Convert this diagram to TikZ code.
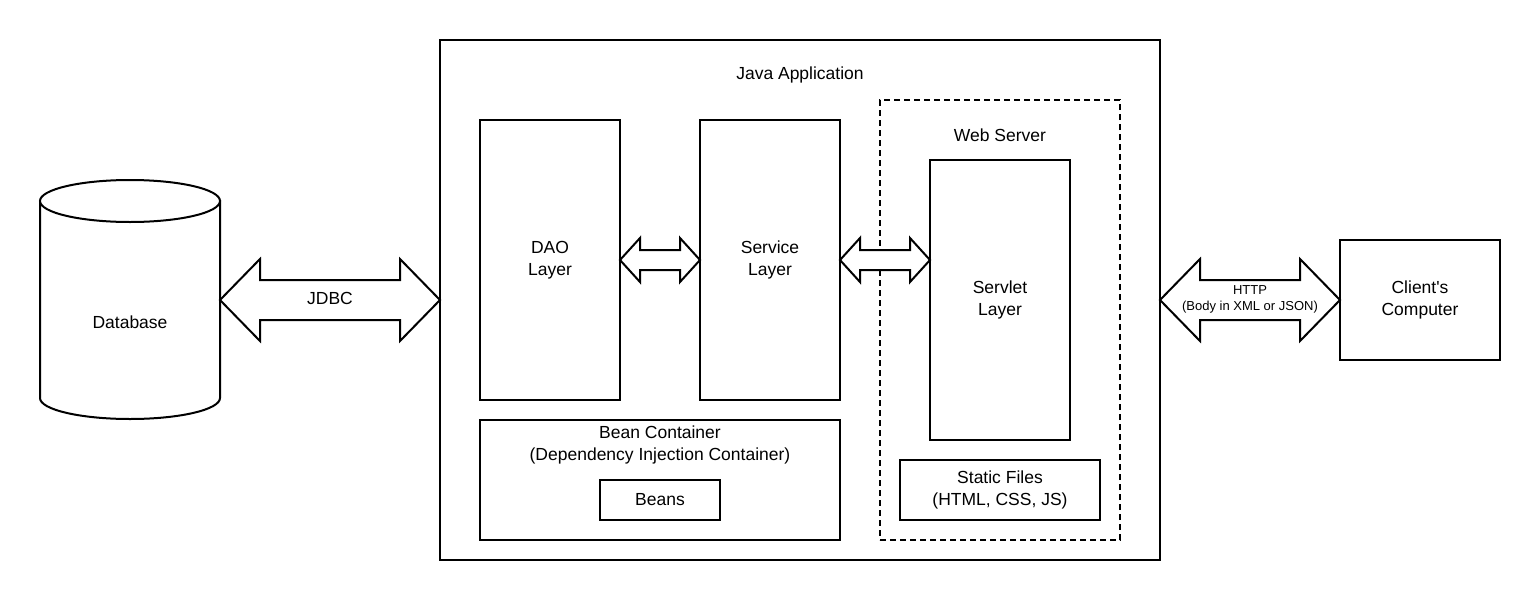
\documentclass[tikz,border=0pt]{standalone}
\usepackage{fontspec}
\setmainfont{Liberation Sans}
\usetikzlibrary{calc}
\tikzset{
  box/.style={draw=black, line width=2pt, fill=white, rectangle, inner sep=0pt, outer sep=0pt, align=center,
    font=\fontsize{17.5}{22}\selectfont},
  dashbox/.style={draw=black, line width=2pt, dash pattern=on 6pt off 4pt, rectangle, inner sep=0pt, outer sep=0pt},
  lbl/.style={inner sep=0pt, align=center, font=\fontsize{17.5}{22}\selectfont},
  small/.style={inner sep=0pt, align=center, font=\fontsize{13}{16}\selectfont},
  blockarrow/.style={draw=black, line width=2pt, fill=white, line join=miter},
  cyl/.style={draw=black, line width=2pt, fill=white}
}
\newcommand\dblarrow[5]{%
  \draw[blockarrow] let \p1=#1, \p2=#2 in
    (\x1,\y1) -- (\x1+#3,\y1+#4) -- (\x1+#3,\y1+#5) -- (\x2-#3,\y1+#5) -- (\x2-#3,\y1+#4) --
    (\x2,\y1) -- (\x2-#3,\y1-#4) -- (\x2-#3,\y1-#5) -- (\x1+#3,\y1-#5) -- (\x1+#3,\y1-#4) -- cycle;}
\begin{document}
\begin{tikzpicture}[x=1pt, y=-1pt]
\useasboundingbox (0,0) rectangle (1540,600);
\fill[white] (0,0) rectangle (1540,600);

% Database cylinder
\draw[cyl] (40,201) -- (40,398) arc[start angle=180, end angle=360, x radius=90pt, y radius=21pt] -- (220,201) -- cycle;
\draw[cyl] (130,201) ellipse[x radius=90pt, y radius=21pt];
\node[inner sep=0pt, outer sep=0pt, minimum width=180pt, minimum height=240pt] (db) at (130,300) {};
\node[lbl] (dbl) at (130,322) {Database};

% Java application
\node[box, minimum width=720pt, minimum height=520pt] (app) at (800,300) {};
\node[lbl] (appl) at (800,75) {Java Application};

% Layers
\node[box, minimum width=140pt, minimum height=280pt] (dao) at (550,260) {DAO\\Layer};
\node[box, minimum width=140pt, minimum height=280pt] (svc) at (770,260) {Service\\Layer};

% Web server
\node[dashbox, minimum width=240pt, minimum height=440pt] (web) at (1000,320) {};
\node[lbl] (webl) at (1000,135) {Web Server};
\node[box, minimum width=140pt, minimum height=280pt] (servlet) at (1000,300) {Servlet\\Layer};
\node[box, minimum width=200pt, minimum height=60pt] (static) at (1000,490) {Static Files\\(HTML, CSS, JS)};

% Bean container
\node[box, minimum width=360pt, minimum height=120pt] (bean) at (660,480) {};
\node[lbl] (beanl) at (660,445) {Bean Container\\(Dependency Injection Container)};
\node[box, minimum width=120pt, minimum height=40pt] (beans) at (660,500) {Beans};

% Client
\node[box, minimum width=160pt, minimum height=120pt] (client) at (1420,300) {Client\textquotesingle s\\Computer};

% Block arrows
\dblarrow{(db.east)}{(app.west)}{40pt}{41pt}{20pt}
\node[lbl] (jdbc) at (330,298) {JDBC};
\dblarrow{(app.east)}{(client.west)}{40pt}{41pt}{20pt}
\node[small] (http) at (1250,299) {HTTP\\(Body in XML or JSON)};
\dblarrow{(dao.east)}{(svc.west)}{20pt}{22pt}{10pt}
\dblarrow{(svc.east)}{(servlet.west |- svc.east)}{20pt}{22pt}{10pt}
\end{tikzpicture}
\end{document}
